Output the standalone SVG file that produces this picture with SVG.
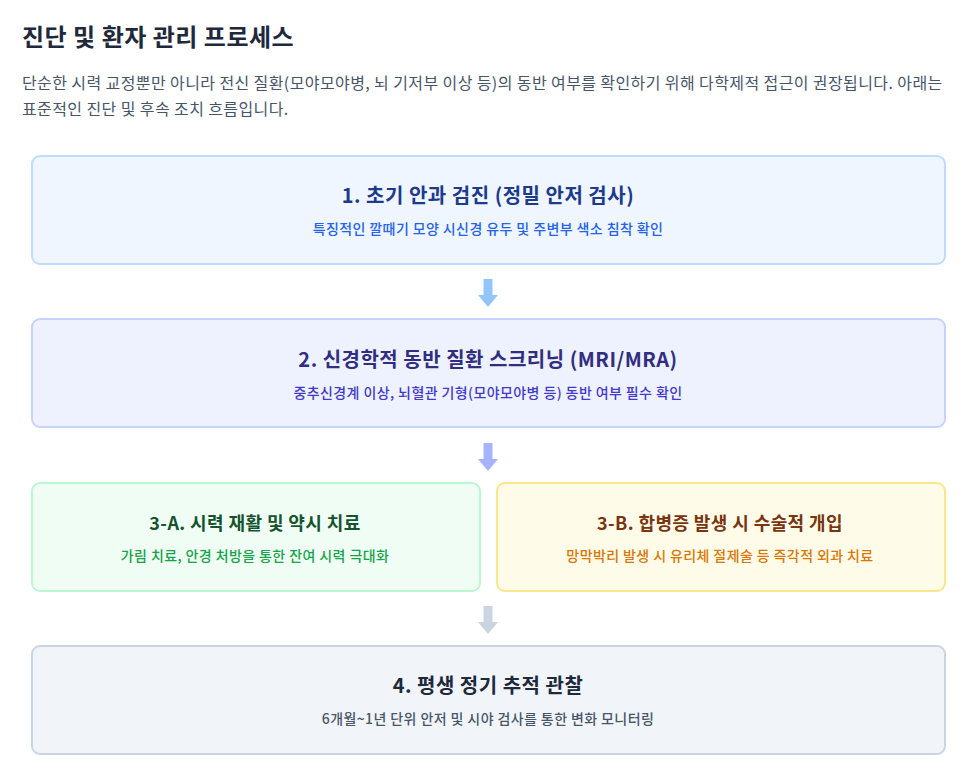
<svg xmlns="http://www.w3.org/2000/svg" width="975" height="774" viewBox="0 0 975 774">
<style>
text{font-family:"Noto Sans CJK KR","Noto Sans",sans-serif}
.h1{font-size:24px;font-weight:700;fill:#1e293b;letter-spacing:0.5px}
.p{font-size:16px;fill:#475569;letter-spacing:0.4px}
.t{font-size:20px;font-weight:700;text-anchor:middle;letter-spacing:0.5px}
.t2{font-size:18px;font-weight:700;text-anchor:middle;letter-spacing:0.4px}
.s{font-size:14px;font-weight:500;text-anchor:middle;letter-spacing:0.4px}
.box{stroke-width:2}
</style>
<rect width="975" height="774" fill="#ffffff"/>
<text class="h1" x="22" y="46">진단 및 환자 관리 프로세스</text>
<text class="p" x="22" y="89">단순한 시력 교정뿐만 아니라 전신 질환(모야모야병, 뇌 기저부 이상 등)의 동반 여부를 확인하기 위해 다학제적 접근이 권장됩니다. 아래는</text>
<text class="p" x="22" y="115">표준적인 진단 및 후속 조치 흐름입니다.</text>

<g id="node1">
<rect class="box" x="32" y="156" width="913" height="108" rx="8" fill="#eff6ff" stroke="#bfdbfe"/>
<text class="t" x="488" y="203" fill="#1e3a8a">1. 초기 안과 검진 (정밀 안저 검사)</text>
<text class="s" x="488" y="234" fill="#2563eb">특징적인 깔때기 모양 시신경 유두 및 주변부 색소 침착 확인</text>
</g>
<g id="node2">
<rect class="box" x="32" y="319" width="913" height="108" rx="8" fill="#eef2ff" stroke="#c7d2fe"/>
<text class="t" x="488" y="367" fill="#312e81">2. 신경학적 동반 질환 스크리닝 (MRI/MRA)</text>
<text class="s" x="488" y="398" fill="#4338ca">중추신경계 이상, 뇌혈관 기형(모야모야병 등) 동반 여부 필수 확인</text>
</g>
<g id="node3a">
<rect class="box" x="32" y="483" width="448" height="108" rx="8" fill="#f0fdf4" stroke="#bbf7d0"/>
<text class="t2" x="255" y="530" fill="#14532d">3-A. 시력 재활 및 약시 치료</text>
<text class="s" x="255" y="561" fill="#16a34a">가림 치료, 안경 처방을 통한 잔여 시력 극대화</text>
</g>
<g id="node3b">
<rect class="box" x="497" y="483" width="448" height="108" rx="8" fill="#fefce8" stroke="#fde68a"/>
<text class="t2" x="720" y="530" fill="#78350f">3-B. 합병증 발생 시 수술적 개입</text>
<text class="s" x="720" y="561" fill="#d97706">망막박리 발생 시 유리체 절제술 등 즉각적 외과 치료</text>
</g>
<g id="node4">
<rect class="box" x="32" y="646" width="913" height="108" rx="8" fill="#f1f5f9" stroke="#cbd5e1"/>
<text class="t" x="488" y="693" fill="#1e293b">4. 평생 정기 추적 관찰</text>
<text class="s" x="488" y="724" fill="#475569">6개월~1년 단위 안저 및 시야 검사를 통한 변화 모니터링</text>
</g>

<g id="connectors">
<path d="M483.5 279 H492.5 V295 H498 L488 307 L478 295 H483.5 Z" fill="#93c5fd"/>
<path d="M483.5 443 H492.5 V459 H498 L488 471 L478 459 H483.5 Z" fill="#a5b4fc"/>
<path d="M483.5 606 H492.5 V622 H498 L488 634 L478 622 H483.5 Z" fill="#cbd5e1"/>
</g>
</svg>
